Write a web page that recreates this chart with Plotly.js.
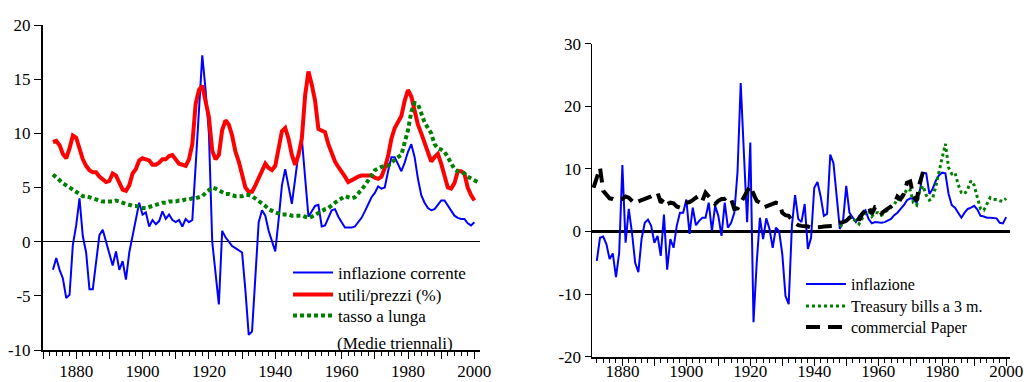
<!DOCTYPE html>
<html>
<head>
<meta charset="utf-8">
<script src="https://cdn.plot.ly/plotly-3.0.1.min.js"></script>
<style>
  html, body { margin: 0; padding: 0; background: #fff; }
  #chart { width: 1027px; height: 382px; }
</style>
</head>
<body>
<div id="chart"></div>
<script>
// ---------- Left panel: 3-year averages ----------
const leftStartYear = 1873;
const inflazioneCorrente = [
  -2.6, -1.5, -2.6, -3.4, -5.2, -4.9, -0.3, 1.5, 4.0, 0.5,
  -1.0, -4.4, -4.4, -1.8, 0.6, 1.1, 0.0, -1.0, -2.2, -0.9,
  -2.6, -1.8, -3.5, -1.0, 0.6, 2.0, 3.6, 2.5, 2.7, 1.4,
  2.0, 1.6, 1.9, 2.8, 2.1, 2.5, 2.0, 1.8, 2.0, 1.4,
  2.1, 1.8, 2.0, 7.0, 12.5, 17.2, 14.0, 10.0, 0.0, -3.0,
  -5.8, 1.0, 0.4, 0.0, -0.4, -0.6, -0.8, -1.0, -4.5, -8.6,
  -8.3, -3.0, 1.8, 2.9, 2.4, 1.0, 0.0, -0.9, 2.0, 5.2,
  6.7, 5.2, 3.5, 5.8, 8.2, 9.5, 5.8, 2.3, 2.8, 3.3,
  3.4, 1.4, 1.5, 2.2, 2.9, 3.0, 2.3, 1.8, 1.3, 1.3,
  1.3, 1.4, 1.8, 2.2, 2.8, 3.5, 4.1, 4.5, 5.1, 4.9,
  5.0, 6.5, 7.8, 7.8, 7.2, 6.5, 7.3, 8.3, 9.0, 7.8,
  5.8, 4.3, 3.6, 3.1, 2.9, 3.0, 3.4, 3.8, 3.8, 3.3,
  2.8, 2.4, 2.2, 2.1, 2.1, 1.7, 1.5, 1.8
];
const utiliPrezzi = [
  9.2, 9.3, 8.9, 8.1, 7.7, 8.6, 9.8, 9.6, 8.6, 7.6,
  7.0, 6.6, 6.4, 6.4, 6.0, 5.8, 5.5, 5.6, 6.3, 6.1,
  5.4, 4.8, 4.7, 5.2, 6.3, 6.7, 7.5, 7.7, 7.6, 7.5,
  7.1, 7.1, 7.3, 7.6, 7.6, 7.9, 8.0, 7.6, 7.2, 7.1,
  7.0, 7.6, 9.0, 12.7, 14.0, 14.4, 12.8, 11.5, 8.4, 7.6,
  8.0, 10.3, 11.2, 10.8, 9.8, 8.3, 7.4, 6.2, 5.0, 4.6,
  4.6, 5.2, 5.8, 6.6, 7.2, 6.8, 6.6, 7.0, 8.5, 10.2,
  10.5, 9.5, 8.0, 7.1, 8.0, 9.5, 13.5, 15.7, 14.5, 13.0,
  10.4, 10.2, 10.1, 9.0, 8.2, 7.4, 6.9, 6.5, 6.0, 5.5,
  5.7, 5.8, 6.0, 6.1, 6.1, 6.1, 6.1, 5.9, 5.8, 6.0,
  6.8, 7.9, 9.5, 10.5, 11.0, 11.6, 13.0, 14.0, 13.4, 12.2,
  10.8, 10.0, 9.2, 8.3, 7.4, 7.8, 8.1, 7.2, 5.9, 5.0,
  4.9, 5.4, 6.5, 6.5, 6.3, 5.0, 4.3, 3.8
];
const tassoLunga = [
  6.2, 5.9, 5.6, 5.4, 5.2, 5.0, 4.8, 4.6, 4.4, 4.2,
  4.2, 4.1, 4.0, 3.9, 3.8, 3.7, 3.7, 3.7, 3.7, 3.8,
  3.7, 3.6, 3.5, 3.4, 3.3, 3.3, 3.2, 3.1, 3.1, 3.2,
  3.3, 3.4, 3.5, 3.6, 3.6, 3.7, 3.7, 3.7, 3.8, 3.8,
  3.9, 3.9, 4.0, 4.0, 4.1, 4.2, 4.5, 4.8, 5.0, 4.9,
  4.7, 4.5, 4.4, 4.4, 4.3, 4.2, 4.2, 4.2, 4.3, 4.3,
  4.2, 4.0, 3.8, 3.6, 3.3, 3.0, 2.8, 2.7, 2.6, 2.5,
  2.5, 2.5, 2.4, 2.4, 2.4, 2.4, 2.3, 2.2, 2.3, 2.5,
  2.7, 2.8, 3.0, 3.1, 3.4, 3.6, 3.8, 4.0, 4.2, 4.1,
  4.0, 4.1, 4.4, 4.8, 5.2, 5.6, 6.1, 6.6, 6.8, 6.9,
  7.0, 7.0, 7.3, 7.6, 7.8, 8.0, 9.0, 10.3, 12.0, 12.8,
  12.7, 11.9, 11.0, 10.5, 10.0, 9.0, 8.6, 8.5, 8.3, 7.8,
  7.2, 6.7, 6.5, 6.4, 6.3, 6.0, 5.8, 5.6, 5.5
];

// ---------- Right panel: annual ----------
const inflStartYear = 1872;
const inflazione = [
  -4.7, -1.0, -0.8, -2.0, -4.4, -3.5, -7.3, -3.4, 10.6, -1.8,
  3.6, -0.2, -5.0, -6.5, -1.2, 1.4, 1.9, 0.9, -1.8, -0.7,
  -3.9, 2.7, -6.1, -1.2, -2.6, 0.9, 3.0, 3.0, 5.1, -0.4,
  3.8, 1.0, 1.7, 2.2, 2.2, 4.6, 0.1, 4.1, 2.5, -0.7,
  4.6, 0.6, 1.4, 3.0, 9.5, 23.7, 12.5, 1.5, 14.2, -14.5,
  -5.0, 2.2, -1.2, 2.1, 0.4, -2.6, 0.6, 0.1, -3.6, -10.3,
  -11.6, 0.9, 5.8, 2.0, 1.5, 4.4, -2.8, -1.0, 7.0, 7.9,
  5.6, 2.5, 2.8, 12.3, 10.9, 5.8, 0.4, 1.7, 7.3, 3.0,
  2.2, 1.5, 2.5, 3.0, 3.4, 2.0, 1.3, 1.5, 1.4, 1.4,
  1.5, 1.7, 2.0, 2.6, 3.0, 3.6, 4.2, 5.0, 5.3, 5.2,
  4.6, 6.5, 9.4, 9.3, 6.0, 6.8, 8.1, 9.0, 9.4, 9.3,
  6.0, 4.2, 3.8, 3.0, 2.2, 3.0, 3.6, 3.8, 4.1, 3.5,
  2.5, 2.4, 2.2, 2.2, 2.1, 2.1, 1.4, 1.3, 2.3
];
const tbillStartYear = 1948;
const treasuryBills = [
  0.8, 1.2, 1.8, 2.3, 2.0, 1.7, 1.2, 2.0, 3.0, 3.3,
  2.4, 3.0, 3.0, 2.6, 3.0, 3.5, 3.8, 4.3, 5.2, 5.0,
  5.8, 6.8, 6.6, 4.6, 4.2, 6.5, 7.3, 5.8, 5.0, 5.3,
  7.2, 9.8, 11.8, 14.0, 10.2, 9.2, 9.4, 7.5, 6.2, 6.0,
  6.8, 8.1, 7.4, 5.4, 3.6, 3.4, 4.4, 5.4, 5.1, 5.1,
  4.9, 4.8, 5.3
];
const cpStartYear = 1871;
const commercialPaper = [
  7.0, 8.5, 10.2, 6.5, 5.8, 5.3, 5.2, 5.0, 5.1, 5.2,
  5.6, 5.4, 4.9, 4.4, 4.8, 5.0, 5.2, 5.3, 5.6, 5.9,
  6.2, 4.6, 5.3, 4.4, 4.6, 4.5, 4.0, 3.8, 4.5, 4.6,
  4.7, 5.0, 5.4, 4.6, 4.9, 6.2, 5.6, 4.9, 4.4, 4.9,
  5.2, 5.2, 5.6, 5.2, 3.6, 3.7, 4.6, 5.5, 6.2, 7.3,
  6.0, 4.9, 4.6, 3.8, 4.0, 4.2, 4.4, 4.6, 4.5, 3.0,
  2.6, 2.5, 1.8, 1.3, 1.0, 0.9, 0.9, 0.8, 0.6, 0.6,
  0.6, 0.7, 0.8, 0.8, 0.9, 0.9, 1.1, 1.4, 1.5, 1.7,
  2.2, 2.5, 2.6, 1.8, 2.8, 3.3, 4.0, 2.8, 3.9, 3.8,
  2.9, 3.3, 3.6, 4.0, 4.4, 5.6, 5.2, 6.0, 7.8, 8.0,
  5.6, 4.9, 7.8, 9.5
];

const xTickVals = [1870, 1880, 1890, 1900, 1910, 1920, 1930, 1940, 1950, 1960, 1970, 1980, 1990, 2000];
const xLabelVals = [1880, 1900, 1920, 1940, 1960, 1980, 2000];
const xLabelText = ['1880', '1900', '1920', '1940', '1960', '1980', '2000'];
const leftYTicks = [-10, -5, 0, 5, 10, 15, 20];
const leftYText = ['-10', '-5', '0', '5', '10', '15', '20'];
const rightYTicks = [-20, -10, 0, 10, 20, 30];
const rightYText = ['-20', '-10', '0', '10', '20', '30'];

function yearsFrom(start, arr) { return arr.map((_, i) => start + i); }

const serif = 'Liberation Serif';

const traces = [
  { x: yearsFrom(leftStartYear, inflazioneCorrente), y: inflazioneCorrente, name: 'inflazione corrente',
    type: 'scatter', mode: 'lines', line: { color: '#0000ff', width: 2 }, xaxis: 'x', yaxis: 'y', legend: 'legend' },
  { x: yearsFrom(leftStartYear, utiliPrezzi), y: utiliPrezzi, name: 'utili/prezzi (%)',
    type: 'scatter', mode: 'lines', line: { color: '#ff0000', width: 4 }, xaxis: 'x', yaxis: 'y', legend: 'legend3' },
  { x: yearsFrom(leftStartYear, tassoLunga), y: tassoLunga, name: 'tasso a lunga',
    type: 'scatter', mode: 'lines', line: { color: '#008000', width: 4, dash: '4px,3px' }, xaxis: 'x', yaxis: 'y', legend: 'legend4' },
  { x: yearsFrom(inflStartYear, inflazione), y: inflazione, name: 'inflazione',
    type: 'scatter', mode: 'lines', line: { color: '#0000ff', width: 2 }, xaxis: 'x2', yaxis: 'y2', legend: 'legend2' },
  { x: yearsFrom(tbillStartYear, treasuryBills), y: treasuryBills, name: 'Treasury bills a 3 m.',
    type: 'scatter', mode: 'lines', line: { color: '#008000', width: 3, dash: '3px,3px' }, xaxis: 'x2', yaxis: 'y2', legend: 'legend5' },
  { x: yearsFrom(cpStartYear, commercialPaper), y: commercialPaper, name: 'commercial Paper',
    type: 'scatter', mode: 'lines', line: { color: '#000000', width: 4, dash: '14px,8px' }, xaxis: 'x2', yaxis: 'y2', legend: 'legend6' }
];

const xBase = {
  showgrid: false, zeroline: false, showline: true, linecolor: '#000', linewidth: 2,
  ticks: 'outside', ticklen: 7, tickwidth: 1, tickcolor: '#000',
  tickmode: 'array', tickvals: xTickVals, showticklabels: false,
  minor: { tickmode: 'linear', tick0: 1870, dtick: 2, ticks: 'outside', ticklen: 4, tickwidth: 1, tickcolor: '#000' },
  fixedrange: true
};
const xLabelBase = {
  showgrid: false, zeroline: false, showline: false, ticks: '',
  tickmode: 'array', tickvals: xLabelVals, ticktext: xLabelText,
  anchor: 'free', fixedrange: true
};

function oneLegend(x, yPx, size) {
  return {
    x: x / 1027, xanchor: 'left', y: (382 - yPx) / 382, yanchor: 'middle',
    bgcolor: 'rgba(0,0,0,0)', borderwidth: 0, itemwidth: 40,
    font: { family: serif, size: size, color: '#000' }
  };
}

const layout = {
  width: 1027, height: 382,
  margin: { l: 0, r: 0, t: 0, b: 0 },
  paper_bgcolor: '#fff', plot_bgcolor: '#fff',
  font: { family: serif, color: '#000' },
  showlegend: true,
  xaxis: Object.assign({}, xBase, { domain: [43 / 1027, 480 / 1027], range: [1870, 2001.7], anchor: 'y' }),
  xaxis3: Object.assign({}, xLabelBase, { overlaying: 'x', range: [1870, 2001.7], position: (382 - 359) / 382,
    tickfont: { family: serif, size: 17, color: '#000' } }),
  yaxis: {
    domain: [32 / 382, 357 / 382], range: [-10, 20], anchor: 'x',
    showgrid: false, showline: true, linecolor: '#000', linewidth: 2,
    zeroline: true, zerolinecolor: '#000', zerolinewidth: 1,
    ticks: 'outside', ticklen: 7, tickcolor: '#000',
    tickmode: 'array', tickvals: leftYTicks, ticktext: leftYText,
    tickfont: { family: serif, size: 17, color: '#000' }
  },
  xaxis2: Object.assign({}, xBase, { domain: [592 / 1027, 1010 / 1027], range: [1870.5, 2001.2], anchor: 'y2', linewidth: 2 }),
  xaxis4: Object.assign({}, xLabelBase, { overlaying: 'x2', range: [1870.5, 2001.2], position: (382 - 359) / 382,
    tickfont: { family: serif, size: 17, color: '#000' } }),
  yaxis2: {
    domain: [(382 - 356.7) / 382, (382 - 43.7) / 382], range: [-20, 30], anchor: 'x2',
    showgrid: false, showline: true, linecolor: '#000', linewidth: 1.5,
    zeroline: true, zerolinecolor: '#000', zerolinewidth: 2.5,
    ticks: 'outside', ticklen: 6, tickcolor: '#000',
    tickmode: 'array', tickvals: rightYTicks, ticktext: rightYText,
    tickfont: { family: serif, size: 17, color: '#000' }
  },
  legend: oneLegend(288, 273, 17),
  legend3: oneLegend(288, 295, 17),
  legend4: oneLegend(288, 316, 17),
  legend2: oneLegend(801, 284, 16),
  legend5: oneLegend(801, 306, 16),
  legend6: oneLegend(801, 327, 16),
  annotations: [
    { xref: 'paper', yref: 'paper', x: 335 / 1027, y: (382 - 343) / 382, xanchor: 'left', yanchor: 'middle',
      text: '(Medie triennali)', showarrow: false, font: { family: serif, size: 17, color: '#000' } }
  ]
};

// invisible helper traces so the label-only axes are drawn
traces.push({ x: [1900], y: [0], xaxis: 'x3', yaxis: 'y', mode: 'markers', marker: { opacity: 0 },
  showlegend: false, hoverinfo: 'skip' });
traces.push({ x: [1900], y: [0], xaxis: 'x4', yaxis: 'y2', mode: 'markers', marker: { opacity: 0 },
  showlegend: false, hoverinfo: 'skip' });

Plotly.newPlot('chart', traces, layout, { staticPlot: true, displayModeBar: false });
</script>
</body>
</html>
